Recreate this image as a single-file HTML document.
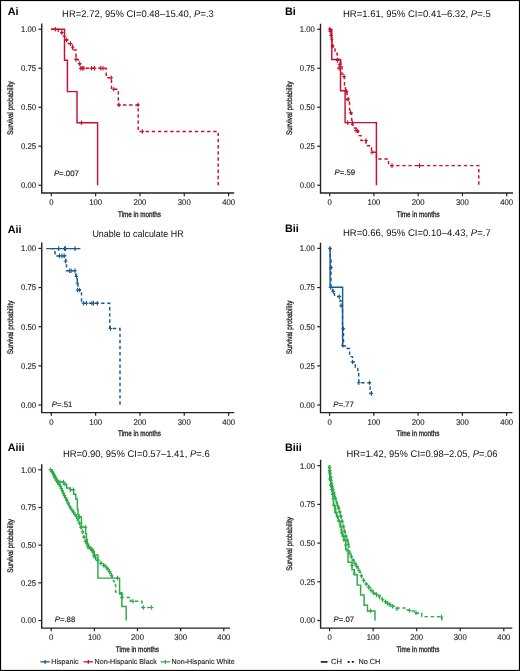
<!DOCTYPE html>
<html><head><meta charset="utf-8"><style>
html,body{margin:0;padding:0;background:#fff;}
body{width:520px;height:671px;overflow:hidden;}
svg{display:block;will-change:transform;}
text{font-family:"Liberation Sans",sans-serif;text-rendering:geometricPrecision;}
</style></head><body>
<svg width="520" height="671" viewBox="0 0 520 671">
<rect x="0.5" y="0.5" width="519" height="670" fill="#fff" stroke="#000" stroke-width="1.2"/>
<path d="M41.75 23.5V193.0H234.25" fill="none" stroke="#222" stroke-width="1.4"/>
<path d="M38.45 185.25H41.75" stroke="#222" stroke-width="1.2"/>
<text transform="translate(36.15 188.05) scale(0.93 1)" font-size="8.3" text-anchor="end" fill="#222" stroke="#222" stroke-width="0.12">0.00</text>
<path d="M38.45 146.25H41.75" stroke="#222" stroke-width="1.2"/>
<text transform="translate(36.15 149.05) scale(0.93 1)" font-size="8.3" text-anchor="end" fill="#222" stroke="#222" stroke-width="0.12">0.25</text>
<path d="M38.45 107.25H41.75" stroke="#222" stroke-width="1.2"/>
<text transform="translate(36.15 110.05) scale(0.93 1)" font-size="8.3" text-anchor="end" fill="#222" stroke="#222" stroke-width="0.12">0.50</text>
<path d="M38.45 68.25H41.75" stroke="#222" stroke-width="1.2"/>
<text transform="translate(36.15 71.05) scale(0.93 1)" font-size="8.3" text-anchor="end" fill="#222" stroke="#222" stroke-width="0.12">0.75</text>
<path d="M38.45 29.25H41.75" stroke="#222" stroke-width="1.2"/>
<text transform="translate(36.15 32.05) scale(0.93 1)" font-size="8.3" text-anchor="end" fill="#222" stroke="#222" stroke-width="0.12">1.00</text>
<path d="M51.30 193.0V196.2" stroke="#222" stroke-width="1.2"/>
<text transform="translate(51.30 204.90) scale(0.93 1)" font-size="8.3" text-anchor="middle" fill="#222" stroke="#222" stroke-width="0.12">0</text>
<path d="M95.62 193.0V196.2" stroke="#222" stroke-width="1.2"/>
<text transform="translate(95.62 204.90) scale(0.93 1)" font-size="8.3" text-anchor="middle" fill="#222" stroke="#222" stroke-width="0.12">100</text>
<path d="M139.94 193.0V196.2" stroke="#222" stroke-width="1.2"/>
<text transform="translate(139.94 204.90) scale(0.93 1)" font-size="8.3" text-anchor="middle" fill="#222" stroke="#222" stroke-width="0.12">200</text>
<path d="M184.26 193.0V196.2" stroke="#222" stroke-width="1.2"/>
<text transform="translate(184.26 204.90) scale(0.93 1)" font-size="8.3" text-anchor="middle" fill="#222" stroke="#222" stroke-width="0.12">300</text>
<path d="M228.58 193.0V196.2" stroke="#222" stroke-width="1.2"/>
<text transform="translate(228.58 204.90) scale(0.93 1)" font-size="8.3" text-anchor="middle" fill="#222" stroke="#222" stroke-width="0.12">400</text>
<text transform="translate(139.50 216.70) scale(0.79 1)" font-size="8.0" text-anchor="middle" fill="#1a1a1a" stroke="#1a1a1a" stroke-width="0.3">Time in months</text>
<text transform="translate(13.35 108.05) rotate(-90) scale(0.8 1)" font-size="8.0" text-anchor="middle" fill="#1a1a1a" stroke="#1a1a1a" stroke-width="0.3">Survival probability</text>
<text x="7.7" y="15.0" font-size="10.8" font-weight="bold" fill="#000">Ai</text>
<text x="62.10" y="16.90" font-size="9.6" fill="#111" textLength="151.7" lengthAdjust="spacingAndGlyphs">HR=2.72, 95% CI=0.48–15.40, <tspan font-style="italic">P</tspan>=.3</text>
<path d="M320.5 23.7V193.0H513.0" fill="none" stroke="#222" stroke-width="1.4"/>
<path d="M317.2 185.25H320.5" stroke="#222" stroke-width="1.2"/>
<text transform="translate(314.90 188.05) scale(0.93 1)" font-size="8.3" text-anchor="end" fill="#222" stroke="#222" stroke-width="0.12">0.00</text>
<path d="M317.2 146.25H320.5" stroke="#222" stroke-width="1.2"/>
<text transform="translate(314.90 149.05) scale(0.93 1)" font-size="8.3" text-anchor="end" fill="#222" stroke="#222" stroke-width="0.12">0.25</text>
<path d="M317.2 107.25H320.5" stroke="#222" stroke-width="1.2"/>
<text transform="translate(314.90 110.05) scale(0.93 1)" font-size="8.3" text-anchor="end" fill="#222" stroke="#222" stroke-width="0.12">0.50</text>
<path d="M317.2 68.25H320.5" stroke="#222" stroke-width="1.2"/>
<text transform="translate(314.90 71.05) scale(0.93 1)" font-size="8.3" text-anchor="end" fill="#222" stroke="#222" stroke-width="0.12">0.75</text>
<path d="M317.2 29.25H320.5" stroke="#222" stroke-width="1.2"/>
<text transform="translate(314.90 32.05) scale(0.93 1)" font-size="8.3" text-anchor="end" fill="#222" stroke="#222" stroke-width="0.12">1.00</text>
<path d="M329.70 193.0V196.2" stroke="#222" stroke-width="1.2"/>
<text transform="translate(329.70 204.90) scale(0.93 1)" font-size="8.3" text-anchor="middle" fill="#222" stroke="#222" stroke-width="0.12">0</text>
<path d="M373.95 193.0V196.2" stroke="#222" stroke-width="1.2"/>
<text transform="translate(373.95 204.90) scale(0.93 1)" font-size="8.3" text-anchor="middle" fill="#222" stroke="#222" stroke-width="0.12">100</text>
<path d="M418.20 193.0V196.2" stroke="#222" stroke-width="1.2"/>
<text transform="translate(418.20 204.90) scale(0.93 1)" font-size="8.3" text-anchor="middle" fill="#222" stroke="#222" stroke-width="0.12">200</text>
<path d="M462.45 193.0V196.2" stroke="#222" stroke-width="1.2"/>
<text transform="translate(462.45 204.90) scale(0.93 1)" font-size="8.3" text-anchor="middle" fill="#222" stroke="#222" stroke-width="0.12">300</text>
<path d="M506.70 193.0V196.2" stroke="#222" stroke-width="1.2"/>
<text transform="translate(506.70 204.90) scale(0.93 1)" font-size="8.3" text-anchor="middle" fill="#222" stroke="#222" stroke-width="0.12">400</text>
<text transform="translate(418.25 216.70) scale(0.79 1)" font-size="8.0" text-anchor="middle" fill="#1a1a1a" stroke="#1a1a1a" stroke-width="0.3">Time in months</text>
<text transform="translate(292.10 108.05) rotate(-90) scale(0.8 1)" font-size="8.0" text-anchor="middle" fill="#1a1a1a" stroke="#1a1a1a" stroke-width="0.3">Survival probability</text>
<text x="285.0" y="15.0" font-size="10.8" font-weight="bold" fill="#000">Bi</text>
<text x="342.90" y="16.90" font-size="9.6" fill="#111" textLength="147.8" lengthAdjust="spacingAndGlyphs">HR=1.61, 95% CI=0.41–6.32, <tspan font-style="italic">P</tspan>=.5</text>
<path d="M41.75 242.5V412.6H234.25" fill="none" stroke="#222" stroke-width="1.4"/>
<path d="M38.45 405.00H41.75" stroke="#222" stroke-width="1.2"/>
<text transform="translate(36.15 407.80) scale(0.93 1)" font-size="8.3" text-anchor="end" fill="#222" stroke="#222" stroke-width="0.12">0.00</text>
<path d="M38.45 365.85H41.75" stroke="#222" stroke-width="1.2"/>
<text transform="translate(36.15 368.65) scale(0.93 1)" font-size="8.3" text-anchor="end" fill="#222" stroke="#222" stroke-width="0.12">0.25</text>
<path d="M38.45 326.70H41.75" stroke="#222" stroke-width="1.2"/>
<text transform="translate(36.15 329.50) scale(0.93 1)" font-size="8.3" text-anchor="end" fill="#222" stroke="#222" stroke-width="0.12">0.50</text>
<path d="M38.45 287.55H41.75" stroke="#222" stroke-width="1.2"/>
<text transform="translate(36.15 290.35) scale(0.93 1)" font-size="8.3" text-anchor="end" fill="#222" stroke="#222" stroke-width="0.12">0.75</text>
<path d="M38.45 248.40H41.75" stroke="#222" stroke-width="1.2"/>
<text transform="translate(36.15 251.20) scale(0.93 1)" font-size="8.3" text-anchor="end" fill="#222" stroke="#222" stroke-width="0.12">1.00</text>
<path d="M51.30 412.6V415.8" stroke="#222" stroke-width="1.2"/>
<text transform="translate(51.30 424.50) scale(0.93 1)" font-size="8.3" text-anchor="middle" fill="#222" stroke="#222" stroke-width="0.12">0</text>
<path d="M95.62 412.6V415.8" stroke="#222" stroke-width="1.2"/>
<text transform="translate(95.62 424.50) scale(0.93 1)" font-size="8.3" text-anchor="middle" fill="#222" stroke="#222" stroke-width="0.12">100</text>
<path d="M139.94 412.6V415.8" stroke="#222" stroke-width="1.2"/>
<text transform="translate(139.94 424.50) scale(0.93 1)" font-size="8.3" text-anchor="middle" fill="#222" stroke="#222" stroke-width="0.12">200</text>
<path d="M184.26 412.6V415.8" stroke="#222" stroke-width="1.2"/>
<text transform="translate(184.26 424.50) scale(0.93 1)" font-size="8.3" text-anchor="middle" fill="#222" stroke="#222" stroke-width="0.12">300</text>
<path d="M228.58 412.6V415.8" stroke="#222" stroke-width="1.2"/>
<text transform="translate(228.58 424.50) scale(0.93 1)" font-size="8.3" text-anchor="middle" fill="#222" stroke="#222" stroke-width="0.12">400</text>
<text transform="translate(139.50 436.30) scale(0.79 1)" font-size="8.0" text-anchor="middle" fill="#1a1a1a" stroke="#1a1a1a" stroke-width="0.3">Time in months</text>
<text transform="translate(13.35 327.50) rotate(-90) scale(0.8 1)" font-size="8.0" text-anchor="middle" fill="#1a1a1a" stroke="#1a1a1a" stroke-width="0.3">Survival probability</text>
<text x="7.7" y="232.5" font-size="10.8" font-weight="bold" fill="#000">Aii</text>
<text x="92.40" y="236.60" font-size="9.6" fill="#111" textLength="91.2" lengthAdjust="spacingAndGlyphs">Unable to calculate HR</text>
<path d="M320.5 242.7V412.6H512.5" fill="none" stroke="#222" stroke-width="1.4"/>
<path d="M317.2 405.00H320.5" stroke="#222" stroke-width="1.2"/>
<text transform="translate(314.90 407.80) scale(0.93 1)" font-size="8.3" text-anchor="end" fill="#222" stroke="#222" stroke-width="0.12">0.00</text>
<path d="M317.2 365.85H320.5" stroke="#222" stroke-width="1.2"/>
<text transform="translate(314.90 368.65) scale(0.93 1)" font-size="8.3" text-anchor="end" fill="#222" stroke="#222" stroke-width="0.12">0.25</text>
<path d="M317.2 326.70H320.5" stroke="#222" stroke-width="1.2"/>
<text transform="translate(314.90 329.50) scale(0.93 1)" font-size="8.3" text-anchor="end" fill="#222" stroke="#222" stroke-width="0.12">0.50</text>
<path d="M317.2 287.55H320.5" stroke="#222" stroke-width="1.2"/>
<text transform="translate(314.90 290.35) scale(0.93 1)" font-size="8.3" text-anchor="end" fill="#222" stroke="#222" stroke-width="0.12">0.75</text>
<path d="M317.2 248.40H320.5" stroke="#222" stroke-width="1.2"/>
<text transform="translate(314.90 251.20) scale(0.93 1)" font-size="8.3" text-anchor="end" fill="#222" stroke="#222" stroke-width="0.12">1.00</text>
<path d="M329.60 412.6V415.8" stroke="#222" stroke-width="1.2"/>
<text transform="translate(329.60 424.50) scale(0.93 1)" font-size="8.3" text-anchor="middle" fill="#222" stroke="#222" stroke-width="0.12">0</text>
<path d="M373.85 412.6V415.8" stroke="#222" stroke-width="1.2"/>
<text transform="translate(373.85 424.50) scale(0.93 1)" font-size="8.3" text-anchor="middle" fill="#222" stroke="#222" stroke-width="0.12">100</text>
<path d="M418.10 412.6V415.8" stroke="#222" stroke-width="1.2"/>
<text transform="translate(418.10 424.50) scale(0.93 1)" font-size="8.3" text-anchor="middle" fill="#222" stroke="#222" stroke-width="0.12">200</text>
<path d="M462.35 412.6V415.8" stroke="#222" stroke-width="1.2"/>
<text transform="translate(462.35 424.50) scale(0.93 1)" font-size="8.3" text-anchor="middle" fill="#222" stroke="#222" stroke-width="0.12">300</text>
<path d="M506.60 412.6V415.8" stroke="#222" stroke-width="1.2"/>
<text transform="translate(506.60 424.50) scale(0.93 1)" font-size="8.3" text-anchor="middle" fill="#222" stroke="#222" stroke-width="0.12">400</text>
<text transform="translate(418.00 436.30) scale(0.79 1)" font-size="8.0" text-anchor="middle" fill="#1a1a1a" stroke="#1a1a1a" stroke-width="0.3">Time in months</text>
<text transform="translate(292.10 327.50) rotate(-90) scale(0.8 1)" font-size="8.0" text-anchor="middle" fill="#1a1a1a" stroke="#1a1a1a" stroke-width="0.3">Survival probability</text>
<text x="285.0" y="232.4" font-size="10.8" font-weight="bold" fill="#000">Bii</text>
<text x="342.90" y="236.30" font-size="9.6" fill="#111" textLength="147.8" lengthAdjust="spacingAndGlyphs">HR=0.66, 95% CI=0.10–4.43, <tspan font-style="italic">P</tspan>=.7</text>
<path d="M41.7 464.3V628.1H230.0" fill="none" stroke="#222" stroke-width="1.4"/>
<path d="M38.400000000000006 620.50H41.7" stroke="#222" stroke-width="1.2"/>
<text transform="translate(36.10 623.30) scale(0.93 1)" font-size="8.3" text-anchor="end" fill="#222" stroke="#222" stroke-width="0.12">0.00</text>
<path d="M38.400000000000006 582.83H41.7" stroke="#222" stroke-width="1.2"/>
<text transform="translate(36.10 585.62) scale(0.93 1)" font-size="8.3" text-anchor="end" fill="#222" stroke="#222" stroke-width="0.12">0.25</text>
<path d="M38.400000000000006 545.15H41.7" stroke="#222" stroke-width="1.2"/>
<text transform="translate(36.10 547.95) scale(0.93 1)" font-size="8.3" text-anchor="end" fill="#222" stroke="#222" stroke-width="0.12">0.50</text>
<path d="M38.400000000000006 507.48H41.7" stroke="#222" stroke-width="1.2"/>
<text transform="translate(36.10 510.28) scale(0.93 1)" font-size="8.3" text-anchor="end" fill="#222" stroke="#222" stroke-width="0.12">0.75</text>
<path d="M38.400000000000006 469.80H41.7" stroke="#222" stroke-width="1.2"/>
<text transform="translate(36.10 472.60) scale(0.93 1)" font-size="8.3" text-anchor="end" fill="#222" stroke="#222" stroke-width="0.12">1.00</text>
<path d="M51.20 628.1V631.3000000000001" stroke="#222" stroke-width="1.2"/>
<text transform="translate(51.20 640.00) scale(0.93 1)" font-size="8.3" text-anchor="middle" fill="#222" stroke="#222" stroke-width="0.12">0</text>
<path d="M94.35 628.1V631.3000000000001" stroke="#222" stroke-width="1.2"/>
<text transform="translate(94.35 640.00) scale(0.93 1)" font-size="8.3" text-anchor="middle" fill="#222" stroke="#222" stroke-width="0.12">100</text>
<path d="M137.50 628.1V631.3000000000001" stroke="#222" stroke-width="1.2"/>
<text transform="translate(137.50 640.00) scale(0.93 1)" font-size="8.3" text-anchor="middle" fill="#222" stroke="#222" stroke-width="0.12">200</text>
<path d="M180.65 628.1V631.3000000000001" stroke="#222" stroke-width="1.2"/>
<text transform="translate(180.65 640.00) scale(0.93 1)" font-size="8.3" text-anchor="middle" fill="#222" stroke="#222" stroke-width="0.12">300</text>
<path d="M223.80 628.1V631.3000000000001" stroke="#222" stroke-width="1.2"/>
<text transform="translate(223.80 640.00) scale(0.93 1)" font-size="8.3" text-anchor="middle" fill="#222" stroke="#222" stroke-width="0.12">400</text>
<text transform="translate(137.35 651.80) scale(0.79 1)" font-size="8.0" text-anchor="middle" fill="#1a1a1a" stroke="#1a1a1a" stroke-width="0.3">Time in months</text>
<text transform="translate(13.30 545.95) rotate(-90) scale(0.8 1)" font-size="8.0" text-anchor="middle" fill="#1a1a1a" stroke="#1a1a1a" stroke-width="0.3">Survival probability</text>
<text x="7.7" y="451.0" font-size="10.8" font-weight="bold" fill="#000">Aiii</text>
<text x="62.90" y="457.10" font-size="9.6" fill="#111" textLength="146.8" lengthAdjust="spacingAndGlyphs">HR=0.90, 95% CI=0.57–1.41, <tspan font-style="italic">P</tspan>=.6</text>
<path d="M320.6 459.8V628.1H512.3" fill="none" stroke="#222" stroke-width="1.4"/>
<path d="M317.3 620.50H320.6" stroke="#222" stroke-width="1.2"/>
<text transform="translate(315.00 623.30) scale(0.93 1)" font-size="8.3" text-anchor="end" fill="#222" stroke="#222" stroke-width="0.12">0.00</text>
<path d="M317.3 581.80H320.6" stroke="#222" stroke-width="1.2"/>
<text transform="translate(315.00 584.60) scale(0.93 1)" font-size="8.3" text-anchor="end" fill="#222" stroke="#222" stroke-width="0.12">0.25</text>
<path d="M317.3 543.10H320.6" stroke="#222" stroke-width="1.2"/>
<text transform="translate(315.00 545.90) scale(0.93 1)" font-size="8.3" text-anchor="end" fill="#222" stroke="#222" stroke-width="0.12">0.50</text>
<path d="M317.3 504.40H320.6" stroke="#222" stroke-width="1.2"/>
<text transform="translate(315.00 507.20) scale(0.93 1)" font-size="8.3" text-anchor="end" fill="#222" stroke="#222" stroke-width="0.12">0.75</text>
<path d="M317.3 465.70H320.6" stroke="#222" stroke-width="1.2"/>
<text transform="translate(315.00 468.50) scale(0.93 1)" font-size="8.3" text-anchor="end" fill="#222" stroke="#222" stroke-width="0.12">1.00</text>
<path d="M329.60 628.1V631.3000000000001" stroke="#222" stroke-width="1.2"/>
<text transform="translate(329.60 640.00) scale(0.93 1)" font-size="8.3" text-anchor="middle" fill="#222" stroke="#222" stroke-width="0.12">0</text>
<path d="M373.15 628.1V631.3000000000001" stroke="#222" stroke-width="1.2"/>
<text transform="translate(373.15 640.00) scale(0.93 1)" font-size="8.3" text-anchor="middle" fill="#222" stroke="#222" stroke-width="0.12">100</text>
<path d="M416.70 628.1V631.3000000000001" stroke="#222" stroke-width="1.2"/>
<text transform="translate(416.70 640.00) scale(0.93 1)" font-size="8.3" text-anchor="middle" fill="#222" stroke="#222" stroke-width="0.12">200</text>
<path d="M460.25 628.1V631.3000000000001" stroke="#222" stroke-width="1.2"/>
<text transform="translate(460.25 640.00) scale(0.93 1)" font-size="8.3" text-anchor="middle" fill="#222" stroke="#222" stroke-width="0.12">300</text>
<path d="M503.80 628.1V631.3000000000001" stroke="#222" stroke-width="1.2"/>
<text transform="translate(503.80 640.00) scale(0.93 1)" font-size="8.3" text-anchor="middle" fill="#222" stroke="#222" stroke-width="0.12">400</text>
<text transform="translate(417.95 651.80) scale(0.79 1)" font-size="8.0" text-anchor="middle" fill="#1a1a1a" stroke="#1a1a1a" stroke-width="0.3">Time in months</text>
<text transform="translate(292.20 543.90) rotate(-90) scale(0.8 1)" font-size="8.0" text-anchor="middle" fill="#1a1a1a" stroke="#1a1a1a" stroke-width="0.3">Survival probability</text>
<text x="285.0" y="450.8" font-size="10.8" font-weight="bold" fill="#000">Biii</text>
<text x="346.40" y="457.10" font-size="9.6" fill="#111" textLength="151.2" lengthAdjust="spacingAndGlyphs">HR=1.42, 95% CI=0.98–2.05, <tspan font-style="italic">P</tspan>=.06</text>
<path d="M51.1 29.2H64.5V60.2H67.4V91.6H77.0V122.8H97.6V185.3" fill="none" stroke="#c8102e" stroke-width="1.45" stroke-linejoin="miter" stroke-linecap="butt"/>
<path d="M55.30 26.90v4.60M53.50 29.20h3.60M81.50 120.50v4.60M79.70 122.80h3.60" fill="none" stroke="#c8102e" stroke-width="1.1"/>
<path d="M51.1 29.2H58.2V32.5H62.3V36.1H65V39.9H68.5V43.6H72.6V49.9H76V59.4H78.3V63.6H80.2V68.2H106.2V77.7H111.5V89.2H118.3V104.9H138.2V131.5H218.2V185.3" fill="none" stroke="#c8102e" stroke-width="1.45" stroke-dasharray="3.4 2.75" stroke-linejoin="miter" stroke-linecap="butt"/>
<path d="M61.80 30.20v4.60M60.00 32.50h3.60M66.50 37.60v4.60M64.70 39.90h3.60M70.50 41.30v4.60M68.70 43.60h3.60M72.60 45.40v4.60M70.80 47.70h3.60M76.00 57.10v4.60M74.20 59.40h3.60M79.70 61.30v4.60M77.90 63.60h3.60M80.80 65.90v4.60M79.00 68.20h3.60M82.30 65.90v4.60M80.50 68.20h3.60M83.80 65.90v4.60M82.00 68.20h3.60M91.50 65.90v4.60M89.70 68.20h3.60M94.60 65.90v4.60M92.80 68.20h3.60M100.80 65.90v4.60M99.00 68.20h3.60M103.00 65.90v4.60M101.20 68.20h3.60M111.20 75.40v4.60M109.40 77.70h3.60M113.80 86.90v4.60M112.00 89.20h3.60M119.00 102.60v4.60M117.20 104.90h3.60M138.00 102.60v4.60M136.20 104.90h3.60M142.40 129.20v4.60M140.60 131.50h3.60" fill="none" stroke="#c8102e" stroke-width="1.1"/>
<path d="M329.6 29.2H331.8V59.5H340.5V90.8H345.1V122.6H376.4V185.3" fill="none" stroke="#c8102e" stroke-width="1.45" stroke-linejoin="miter" stroke-linecap="butt"/>
<path d="M347.70 120.30v4.60M345.90 122.60h3.60" fill="none" stroke="#c8102e" stroke-width="1.1"/>
<path d="M329.6 29.2H330.6V33H331.3V38H332V44H333V49H335V53.4H337.3V59.5H340.8V66H342V74H344.5V85H345.5V92H347V100H349.5V110H351.7V124.5H353V128H356V131H358.5V135.6H361V140.4H366V145.8H371.5V152.3H376.4V158.9H388.5V165.6H478.8V185.3" fill="none" stroke="#c8102e" stroke-width="1.45" stroke-dasharray="3.4 2.75" stroke-linejoin="miter" stroke-linecap="butt"/>
<path d="M329.60 26.90v4.60M327.80 29.20h3.60M330.30 29.20v4.60M328.50 31.50h3.60M331.00 33.20v4.60M329.20 35.50h3.60M331.60 36.70v4.60M329.80 39.00h3.60M332.60 43.70v4.60M330.80 46.00h3.60M337.50 58.10v4.60M335.70 60.40h3.60M339.70 62.20v4.60M337.90 64.50h3.60M339.00 65.80v4.60M337.20 68.10h3.60M344.00 74.20v4.60M342.20 76.50h3.60M346.50 89.10v4.60M344.70 91.40h3.60M348.20 96.80v4.60M346.40 99.10h3.60M350.60 110.50v4.60M348.80 112.80h3.60M352.50 120.40v4.60M350.70 122.70h3.60M356.00 128.20v4.60M354.20 130.50h3.60M357.50 128.70v4.60M355.70 131.00h3.60M366.00 138.20v4.60M364.20 140.50h3.60M372.00 150.00v4.60M370.20 152.30h3.60M392.00 163.30v4.60M390.20 165.60h3.60M419.50 163.30v4.60M417.70 165.60h3.60" fill="none" stroke="#c8102e" stroke-width="1.1"/>
<path d="M46.25 248.6H80.4" fill="none" stroke="#195a8f" stroke-width="1.45" stroke-linejoin="miter" stroke-linecap="butt"/>
<path d="M58.75 246.30v4.60M56.95 248.60h3.60M64.50 246.30v4.60M62.70 248.60h3.60M65.50 246.30v4.60M63.70 248.60h3.60M75.10 246.30v4.60M73.30 248.60h3.60" fill="none" stroke="#195a8f" stroke-width="1.1"/>
<path d="M51.3 248.6H55V255.9H65.8V261.5H66.5V270.8H75.8V276.9H77.3V283.1H78V290H81.5V303.3H109.7V328.5H120V405" fill="none" stroke="#195a8f" stroke-width="1.45" stroke-dasharray="3.4 2.75" stroke-linejoin="miter" stroke-linecap="butt"/>
<path d="M59.60 253.60v4.60M57.80 255.90h3.60M61.90 253.60v4.60M60.10 255.90h3.60M64.20 253.60v4.60M62.40 255.90h3.60M65.50 258.90v4.60M63.70 261.20h3.60M69.60 268.50v4.60M67.80 270.80h3.60M71.20 268.50v4.60M69.40 270.80h3.60M75.00 268.50v4.60M73.20 270.80h3.60M76.50 274.20v4.60M74.70 276.50h3.60M77.30 280.70v4.60M75.50 283.00h3.60M77.50 287.70v4.60M75.70 290.00h3.60M79.60 287.70v4.60M77.80 290.00h3.60M83.50 301.00v4.60M81.70 303.30h3.60M86.50 301.00v4.60M84.70 303.30h3.60M91.90 301.00v4.60M90.10 303.30h3.60M93.50 301.00v4.60M91.70 303.30h3.60M97.30 301.00v4.60M95.50 303.30h3.60M110.50 326.20v4.60M108.70 328.50h3.60" fill="none" stroke="#195a8f" stroke-width="1.1"/>
<path d="M329.7 248.4H330.1V287.3H342.6V345.9" fill="none" stroke="#195a8f" stroke-width="1.45" stroke-linejoin="miter" stroke-linecap="butt"/>
<path d="M342.80 343.20v4.60M341.00 345.50h3.60" fill="none" stroke="#195a8f" stroke-width="1.1"/>
<path d="M329.6 248.4H330.3V258H331V287.3H332.5V291.5H334.5V296.5H340V301H342V306H342.5V329H343.5V346H346.3V348.4H349.6V356.6H352.5V362H355.3V367.2H357.8V372.1H358.7V382.8H370.1V393.4H371.5" fill="none" stroke="#195a8f" stroke-width="1.45" stroke-dasharray="3.4 2.75" stroke-linejoin="miter" stroke-linecap="butt"/>
<path d="M330.00 246.10v4.60M328.20 248.40h3.60M331.00 265.30v4.60M329.20 267.60h3.60M330.50 285.00v4.60M328.70 287.30h3.60M333.30 289.20v4.60M331.50 291.50h3.60M339.30 294.50v4.60M337.50 296.80h3.60M341.00 303.50v4.60M339.20 305.80h3.60M343.40 326.40v4.60M341.60 328.70h3.60M352.50 359.70v4.60M350.70 362.00h3.60M358.80 380.50v4.60M357.00 382.80h3.60M369.50 380.50v4.60M367.70 382.80h3.60M371.40 391.10v4.60M369.60 393.40h3.60" fill="none" stroke="#195a8f" stroke-width="1.1"/>
<path d="M51.20 469.80H52.20V471.65H53.20V473.50H54.35V475.75H55.50V478.00H56.60V480.00H57.70V482.00H63.5V484.2H66.6V488H70.5V489.7H73.7V494.2H75.8V499H77.4V509.4H78V514.5H78.7V516.8H81.4V527H85.6V533.6H86.5V540H87.3V545.2H88.1V548H90.5V549.5H93.4V551.5H94.3V555H97.9V578.1H119.6V592.6H121.8V606.5H126.2V620.5" fill="none" stroke="#2eab49" stroke-width="1.45" stroke-linejoin="miter" stroke-linecap="butt"/>
<path d="M50.30 467.50v4.60M48.50 469.80h3.60M52.60 469.90v4.60M50.80 472.20h3.60M54.60 474.20v4.60M52.80 476.50h3.60M57.00 478.20v4.60M55.20 480.50h3.60M60.00 479.70v4.60M58.20 482.00h3.60M63.50 479.70v4.60M61.70 482.00h3.60M65.00 481.90v4.60M63.20 484.20h3.60M70.50 487.40v4.60M68.70 489.70h3.60M73.50 487.40v4.60M71.70 489.70h3.60M79.50 514.50v4.60M77.70 516.80h3.60M85.50 524.90v4.60M83.70 527.20h3.60M88.10 544.70v4.60M86.30 547.00h3.60M91.50 547.20v4.60M89.70 549.50h3.60M117.50 575.80v4.60M115.70 578.10h3.60M121.80 591.70v4.60M120.00 594.00h3.60" fill="none" stroke="#2eab49" stroke-width="1.1"/>
<path d="M51.20 469.80H51.75V471.15H52.30V472.50H53.03V473.93H53.77V475.37H54.50V476.80H55.27V478.30H56.03V479.80H56.80V481.30H58.30V483.50H59.50V485.25H60.70V487.00H61.43V488.83H62.17V490.67H62.90V492.50H63.57V493.87H64.23V495.23H64.90V496.60H65.70V498.20H66.50V499.80H67.30V501.40H67.90V502.80H68.50V504.20H69.10V505.60H69.70V507.00H70.70V508.43H71.70V509.85H72.70V511.28H73.70V512.70H75.10V514.65H76.50V516.60H77.20V518.22H77.90V519.84H78.60V521.46H79.30V523.08H80.00V524.70H80.67V526.47H81.33V528.23H82.00V530.00H82.43V531.53H82.86V533.06H83.29V534.59H83.71V536.11H84.14V537.64H84.57V539.17H85.00V540.70H86.17V542.47H87.33V544.23H88.50V546.00H90.10V547.85H91.70V549.70H92.25V551.25H92.80V552.80H93.35V554.35H93.90V555.90H94.93V557.27H95.97V558.63H97.00V560.00H98.90V561.65H100.80V563.30H102.60V564.57H104.40V565.83H106.20V567.10H107.30V568.60H108.40V570.10H109.50V571.60H110.40V573.45H111.30V575.30H111.86V576.74H112.42V578.18H112.98V579.62H113.54V581.06H114.10V582.50H115.60V583.50V592H119.6V594H121.8V597.4H130.5V601.3H142V607.5H152.5" fill="none" stroke="#2eab49" stroke-width="1.45" stroke-dasharray="3.4 2.75" stroke-linejoin="miter" stroke-linecap="butt"/>
<path d="M52.00 469.46v4.60M50.20 471.76h3.60M53.50 472.55v4.60M51.70 474.85h3.60M55.00 475.48v4.60M53.20 477.78h3.60M56.30 478.02v4.60M54.50 480.32h3.60M57.60 480.17v4.60M55.80 482.47h3.60M59.00 482.22v4.60M57.20 484.52h3.60M60.20 483.97v4.60M58.40 486.27h3.60M61.30 486.20v4.60M59.50 488.50h3.60M62.30 488.70v4.60M60.50 491.00h3.60M63.30 491.02v4.60M61.50 493.32h3.60M64.40 493.28v4.60M62.60 495.58h3.60M65.60 495.70v4.60M63.80 498.00h3.60M66.80 498.10v4.60M65.00 500.40h3.60M68.00 500.73v4.60M66.20 503.03h3.60M69.30 503.77v4.60M67.50 506.07h3.60M70.60 505.98v4.60M68.80 508.28h3.60M72.00 507.98v4.60M70.20 510.28h3.60M73.50 510.12v4.60M71.70 512.42h3.60M75.00 512.21v4.60M73.20 514.51h3.60M76.50 514.30v4.60M74.70 516.60h3.60M78.00 517.77v4.60M76.20 520.07h3.60M79.50 521.24v4.60M77.70 523.54h3.60M81.00 525.05v4.60M79.20 527.35h3.60M82.50 529.48v4.60M80.70 531.78h3.60M84.00 534.83v4.60M82.20 537.13h3.60M85.50 539.16v4.60M83.70 541.46h3.60M87.00 541.43v4.60M85.20 543.73h3.60M88.50 543.70v4.60M86.70 546.00h3.60M90.20 545.67v4.60M88.40 547.97h3.60M92.00 548.25v4.60M90.20 550.55h3.60M93.80 553.32v4.60M92.00 555.62h3.60M95.50 555.72v4.60M93.70 558.02h3.60M97.50 558.13v4.60M95.70 560.43h3.60M100.80 561.00v4.60M99.00 563.30h3.60M103.50 562.90v4.60M101.70 565.20h3.60M106.20 564.80v4.60M104.40 567.10h3.60M108.00 567.25v4.60M106.20 569.55h3.60M109.50 569.30v4.60M107.70 571.60h3.60M111.30 573.00v4.60M109.50 575.30h3.60M111.50 573.00v4.60M109.70 575.30h3.60M121.80 595.10v4.60M120.00 597.40h3.60M132.90 599.00v4.60M131.10 601.30h3.60M143.50 605.20v4.60M141.70 607.50h3.60M151.60 605.20v4.60M149.80 607.50h3.60" fill="none" stroke="#2eab49" stroke-width="1.1"/>
<path d="M328.80 465.70H329.00V467.80H329.20V469.90H329.40V472.00H329.57V474.00H329.73V476.00H329.90V478.00H330.13V480.00H330.37V482.00H330.60V484.00H331.05V486.50H331.50V489.00H331.95V491.50H332.40V494.00H332.73V495.87H333.07V497.73H333.40V499.60V505.5H334.9V512.5H336.6V516.6H338.2V521.1H340.2V527H341.4V533H342.5V536.3H344V540H345.7V549.6H348V562.2H352V569.7H354.3V574.8H357.2V585.1H360.6V594.9H364.1V605.2H367.5V610.9H375V620.5" fill="none" stroke="#2eab49" stroke-width="1.45" stroke-linejoin="miter" stroke-linecap="butt"/>
<path d="M329.40 469.70v4.60M327.60 472.00h3.60M330.00 476.56v4.60M328.20 478.86h3.60M330.80 482.81v4.60M329.00 485.11h3.60M331.60 487.26v4.60M329.80 489.56h3.60M332.50 492.26v4.60M330.70 494.56h3.60M333.30 496.74v4.60M331.50 499.04h3.60M334.20 503.20v4.60M332.40 505.50h3.60M335.50 506.70v4.60M333.70 509.00h3.60M336.00 510.20v4.60M334.20 512.50h3.60M337.50 514.30v4.60M335.70 516.60h3.60M339.00 518.80v4.60M337.20 521.10h3.60M340.50 522.70v4.60M338.70 525.00h3.60M341.50 527.70v4.60M339.70 530.00h3.60M342.00 530.70v4.60M340.20 533.00h3.60M343.30 534.00v4.60M341.50 536.30h3.60M344.00 537.70v4.60M342.20 540.00h3.60M345.70 542.70v4.60M343.90 545.00h3.60M347.00 547.30v4.60M345.20 549.60h3.60M352.00 563.20v4.60M350.20 565.50h3.60M354.30 570.70v4.60M352.50 573.00h3.60M370.50 608.60v4.60M368.70 610.90h3.60" fill="none" stroke="#2eab49" stroke-width="1.1"/>
<path d="M329.40 465.70H329.60V467.27H329.80V468.85H330.00V470.43H330.20V472.00H330.38V473.50H330.55V475.00H330.72V476.50H330.90V478.00H331.10V479.50H331.30V481.00H331.50V482.50H331.70V484.00H332.00V485.50H332.30V487.00H332.60V488.50H332.90V490.00H333.43V491.67H333.97V493.33H334.50V495.00H334.93V496.53H335.37V498.07H335.80V499.60H336.20V501.07H336.60V502.53H337.00V504.00H337.60V505.53H338.20V507.07H338.80V508.60H339.24V510.20H339.68V511.80H340.12V513.40H340.56V515.00H341.00V516.60H341.40V518.40H341.80V520.20H342.20V522.00H342.60V523.80H343.00V525.60H343.46V527.40H343.92V529.20H344.38V531.00H344.84V532.80H345.30V534.60H345.88V536.38H346.46V538.16H347.04V539.94H347.62V541.72H348.20V543.50H348.45V545.08H348.70V546.67H348.95V548.25H349.20V549.83H349.45V551.42H349.70V553.00H350.50V554.83H351.30V556.67H352.10V558.50H353.03V560.17H353.97V561.83H354.90V563.50H356.10V565.30H357.30V567.10H358.13V568.80H358.97V570.50H359.80V572.20H360.50V573.97H361.20V575.73H361.90V577.50H362.80V579.10H363.70V580.70H364.60V582.30H366.15V584.20H367.70V586.10H369.00V587.70H370.30V589.30H371.60V590.90H372.90V592.50H374.60V593.50H376.30V594.50H378.00V595.50H380.05V597.50H382.10V599.50H383.75V600.65H385.40V601.80H387.35V603.15H389.30V604.50H390.65V605.25H392.00V606.00H393.60V606.63H395.20V607.27H396.80V607.90H404.9V609.9H410V611H415.7V613.3H421.7V616.6H441.9V620.5" fill="none" stroke="#2eab49" stroke-width="1.45" stroke-dasharray="3.4 2.75" stroke-linejoin="miter" stroke-linecap="butt"/>
<path d="M329.60 464.98v4.60M327.80 467.28h3.60M330.00 468.13v4.60M328.20 470.43h3.60M330.40 471.41v4.60M328.60 473.71h3.60M330.80 474.84v4.60M329.00 477.14h3.60M331.20 477.95v4.60M329.40 480.25h3.60M331.70 481.70v4.60M329.90 484.00h3.60M332.20 484.20v4.60M330.40 486.50h3.60M332.80 487.20v4.60M331.00 489.50h3.60M333.60 489.89v4.60M331.80 492.19h3.60M334.50 492.70v4.60M332.70 495.00h3.60M335.40 495.88v4.60M333.60 498.18h3.60M336.40 499.50v4.60M334.60 501.80h3.60M337.50 502.98v4.60M335.70 505.28h3.60M338.60 505.79v4.60M336.80 508.09h3.60M339.70 509.57v4.60M337.90 511.87h3.60M340.80 513.57v4.60M339.00 515.87h3.60M342.00 518.80v4.60M340.20 521.10h3.60M343.20 524.08v4.60M341.40 526.38h3.60M344.40 528.78v4.60M342.60 531.08h3.60M345.70 533.53v4.60M343.90 535.83h3.60M347.00 537.52v4.60M345.20 539.82h3.60M348.30 541.83v4.60M346.50 544.13h3.60M349.80 550.93v4.60M348.00 553.23h3.60M351.30 554.37v4.60M349.50 556.67h3.60M353.00 557.81v4.60M351.20 560.11h3.60M354.80 561.02v4.60M353.00 563.32h3.60M356.80 564.05v4.60M355.00 566.35h3.60M359.00 568.27v4.60M357.20 570.57h3.60M361.20 573.43v4.60M359.40 575.73h3.60M363.50 578.04v4.60M361.70 580.34h3.60M366.00 581.72v4.60M364.20 584.02h3.60M368.50 584.78v4.60M366.70 587.08h3.60M371.00 587.86v4.60M369.20 590.16h3.60M373.50 590.55v4.60M371.70 592.85h3.60M376.50 592.32v4.60M374.70 594.62h3.60M379.50 594.66v4.60M377.70 596.96h3.60M382.50 597.48v4.60M380.70 599.78h3.60M385.40 599.50v4.60M383.60 601.80h3.60M387.50 600.95v4.60M385.70 603.25h3.60M390.00 602.59v4.60M388.20 604.89h3.60M392.50 603.90v4.60M390.70 606.20h3.60M397.00 606.50v4.60M395.20 608.80h3.60M409.50 608.20v4.60M407.70 610.50h3.60M416.00 610.50v4.60M414.20 612.80h3.60M441.50 614.70v4.60M439.70 617.00h3.60" fill="none" stroke="#2eab49" stroke-width="1.1"/>
<text x="53.90" y="175.6" font-size="7.8" fill="#222" stroke="#222" stroke-width="0.15"><tspan font-style="italic">P</tspan>=.007</text>
<text x="334.60" y="174.7" font-size="7.8" fill="#222" stroke="#222" stroke-width="0.15"><tspan font-style="italic">P</tspan>=.59</text>
<text x="51.80" y="406.9" font-size="7.8" fill="#222" stroke="#222" stroke-width="0.15"><tspan font-style="italic">P</tspan>=.51</text>
<text x="333.20" y="406.8" font-size="7.8" fill="#222" stroke="#222" stroke-width="0.15"><tspan font-style="italic">P</tspan>=.77</text>
<text x="54.70" y="622.2" font-size="7.8" fill="#222" stroke="#222" stroke-width="0.15"><tspan font-style="italic">P</tspan>=.88</text>
<text x="333.50" y="622.1" font-size="7.8" fill="#222" stroke="#222" stroke-width="0.15"><tspan font-style="italic">P</tspan>=.07</text>
<path d="M40.4 661.9H49.8M45.099999999999994 660.0v3.8" stroke="#195a8f" stroke-width="1.4" fill="none"/>
<text x="51.3" y="664.3" font-size="7.15" fill="#222" stroke="#222" stroke-width="0.12">Hispanic</text>
<path d="M83.5 661.9H93.1M88.3 660.0v3.8" stroke="#c8102e" stroke-width="1.4" fill="none"/>
<text x="94.5" y="664.3" font-size="7.15" fill="#222" stroke="#222" stroke-width="0.12">Non-Hispanic Black</text>
<path d="M160.6 661.9H170.1M165.35 660.0v3.8" stroke="#2eab49" stroke-width="1.4" fill="none"/>
<text x="171.6" y="664.3" font-size="7.15" fill="#222" stroke="#222" stroke-width="0.12">Non-Hispanic White</text>
<path d="M320.8 661.9H327.5" stroke="#111" stroke-width="1.6"/>
<text x="331.0" y="664.4" font-size="7.5" fill="#222" stroke="#222" stroke-width="0.12">CH</text>
<path d="M347.7 661.9H353.8" stroke="#111" stroke-width="1.6" stroke-dasharray="2 2.1"/>
<text x="358.4" y="664.4" font-size="7.3" fill="#222" stroke="#222" stroke-width="0.12">No CH</text>
</svg>
</body></html>
